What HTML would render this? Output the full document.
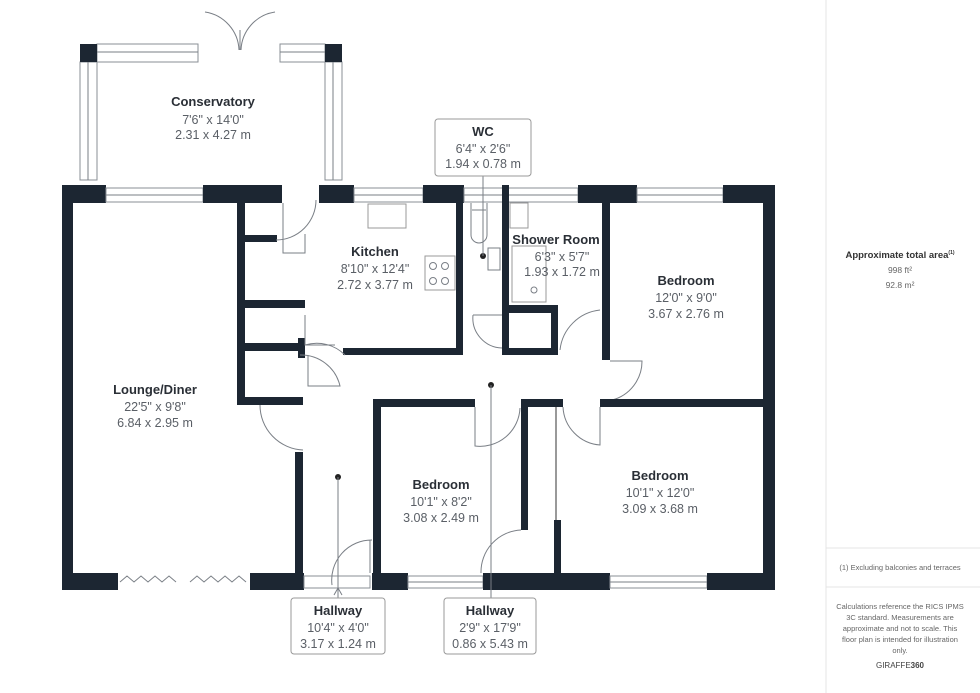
<!DOCTYPE html>
<html><head><meta charset="utf-8"><style>
html,body{margin:0;padding:0;background:#fff;}
svg{display:block;font-family:"Liberation Sans",sans-serif;}
.w{fill:#1c2632}
.t{font-weight:bold;font-size:13px;fill:#2a2f36;text-anchor:middle}
.d{font-size:12.5px;fill:#5a5f66;text-anchor:middle}
.win{fill:#fff;stroke:#8a8f96;stroke-width:1}
.l{fill:none;stroke:#7a7f86;stroke-width:1}
.s{font-size:8px;fill:#666;text-anchor:middle}
</style></head><body>
<svg width="980" height="693" viewBox="0 0 980 693">
<rect width="980" height="693" fill="#fff"/>
<!-- right panel -->
<line x1="826" y1="0" x2="826" y2="693" stroke="#e4e4e4"/>
<line x1="826" y1="548" x2="980" y2="548" stroke="#e4e4e4"/>
<line x1="826" y1="587" x2="980" y2="587" stroke="#e4e4e4"/>
<text x="900" y="258" style="font-weight:bold;font-size:9.5px;fill:#333;text-anchor:middle">Approximate total area<tspan font-size="5" dy="-4">(1)</tspan></text>
<text x="900" y="273" class="s" style="font-size:8.5px">998 ft²</text>
<text x="900" y="288" class="s" style="font-size:8.5px">92.8 m²</text>
<text x="900" y="570" class="s" style="font-size:7.5px">(1) Excluding balconies and terraces</text>
<text class="s" style="font-size:7.5px"><tspan x="900" y="609">Calculations reference the RICS IPMS</tspan><tspan x="900" y="620">3C standard. Measurements are</tspan><tspan x="900" y="631">approximate and not to scale. This</tspan><tspan x="900" y="642">floor plan is intended for illustration</tspan><tspan x="900" y="653">only.</tspan></text>
<text x="900" y="668" class="s" style="font-size:8px;fill:#444">GIRAFFE<tspan font-weight="bold">360</tspan></text>

<!-- conservatory -->
<rect class="win" x="80" y="62" width="17" height="118"/><line class="l" x1="88" y1="62" x2="88" y2="180"/>
<rect class="win" x="325" y="62" width="17" height="118"/><line class="l" x1="333" y1="62" x2="333" y2="180"/>
<rect class="win" x="97" y="44" width="101" height="18"/><line class="l" x1="97" y1="52" x2="198" y2="52"/>
<rect class="win" x="280" y="44" width="45" height="18"/><line class="l" x1="280" y1="52" x2="325" y2="52"/>
<path class="l" d="M239 50 A40 40 0 0 0 205 12 M241 50 A40 40 0 0 1 275 12 M240 50 L240 30"/>
<rect class="w" x="80" y="44" width="17" height="18"/>
<rect class="w" x="325" y="44" width="17" height="18"/>
<!-- top wall -->
<rect class="w" x="62" y="185" width="44" height="18"/>
<rect class="win" x="106" y="188" width="97" height="14"/><line class="l" x1="106" y1="195" x2="203" y2="195"/>
<rect class="w" x="203" y="185" width="79" height="18"/>
<rect class="w" x="319" y="185" width="35" height="18"/>
<rect class="win" x="354" y="188" width="69" height="14"/><line class="l" x1="354" y1="195" x2="423" y2="195"/>
<rect class="w" x="423" y="185" width="41" height="18"/>
<rect class="win" x="464" y="188" width="114" height="14"/><line class="l" x1="464" y1="195" x2="578" y2="195"/>
<rect class="w" x="578" y="185" width="59" height="18"/>
<rect class="win" x="637" y="188" width="86" height="14"/><line class="l" x1="637" y1="195" x2="723" y2="195"/>
<rect class="w" x="723" y="185" width="52" height="18"/>
<!-- outer walls -->
<rect class="w" x="62" y="185" width="11" height="405"/>
<rect class="w" x="763" y="185" width="12" height="405"/>
<!-- bottom wall -->
<rect class="w" x="62" y="573" width="56" height="17"/>
<path class="l" d="M120 582 l7 -6 l7 6 l7 -6 l7 6 l7 -6 l7 6 l7 -6 l7 6 M190 582 l7 -6 l7 6 l7 -6 l7 6 l7 -6 l7 6 l7 -6 l7 6" stroke-width="1.5"/>
<rect class="w" x="250" y="573" width="54" height="17"/>
<rect class="win" x="304" y="576" width="66" height="12"/>
<rect class="w" x="372" y="573" width="36" height="17"/>
<rect class="win" x="408" y="576" width="75" height="12"/><line class="l" x1="408" y1="582" x2="483" y2="582"/>
<rect class="w" x="483" y="573" width="127" height="17"/>
<rect class="win" x="610" y="576" width="97" height="12"/><line class="l" x1="610" y1="582" x2="707" y2="582"/>
<rect class="w" x="707" y="573" width="68" height="17"/>
<!-- kitchen -->
<rect class="w" x="237" y="203" width="8" height="202"/>
<rect class="w" x="244" y="235" width="33" height="7"/>
<rect class="w" x="244" y="300" width="61" height="8"/>
<rect class="w" x="244" y="343" width="61" height="8"/>
<rect class="w" x="298" y="338" width="7" height="20"/>
<rect class="w" x="343" y="348" width="120" height="7"/>
<rect class="w" x="456" y="203" width="7" height="152"/>
<path class="l" d="M283 203 V253 H305 V234 M316 200 A40 40 0 0 1 276 240"/>
<path class="l" d="M305 315 V345 H335 M305 345 A40 40 0 0 1 345 355 M308 355 V386 H340 A40 40 0 0 0 300 355"/>
<rect x="368" y="204" width="38" height="24" fill="none" stroke="#999"/>
<rect x="425" y="256" width="30" height="34" fill="none" stroke="#999"/>
<circle cx="433" cy="266" r="3.5" class="l"/><circle cx="445" cy="266" r="3.5" class="l"/><circle cx="433" cy="281" r="3.5" class="l"/><circle cx="445" cy="281" r="3.5" class="l"/>
<!-- lounge/hall partition -->
<rect class="w" x="237" y="397" width="66" height="8"/>
<rect class="w" x="295" y="452" width="8" height="138"/>
<path class="l" d="M260 405 A45 45 0 0 0 303 450"/>
<!-- WC / shower -->
<rect class="w" x="502" y="185" width="7" height="170"/>
<rect class="w" x="502" y="348" width="56" height="7"/>
<rect class="w" x="508" y="305" width="50" height="8"/>
<rect class="w" x="551" y="305" width="7" height="50"/>
<path class="l" d="M471 203 V235 A8 8 0 0 0 487 235 V203 M472 210 H486 M488 248 H500 V270 H488 Z M473 315 H502 M473 315 A30 30 0 0 0 502 348"/>
<rect x="512" y="246" width="34" height="56" fill="none" stroke="#999"/>
<rect x="510" y="203" width="18" height="25" fill="none" stroke="#999"/>
<circle cx="534" cy="290" r="3" class="l"/>
<circle cx="483" cy="256" r="3" fill="#222"/>
<!-- right bedroom top -->
<rect class="w" x="602" y="185" width="8" height="175"/>
<path class="l" d="M600 310 A45 45 0 0 0 560 350 M610 361 H642 A40 40 0 0 1 612 400"/>
<!-- hall/bedroom walls -->
<rect class="w" x="373" y="399" width="8" height="191"/>
<rect class="w" x="373" y="399" width="102" height="8"/>
<rect class="w" x="521" y="399" width="42" height="8"/>
<rect class="w" x="521" y="399" width="7" height="131"/>
<rect class="w" x="600" y="399" width="165" height="8"/>
<rect class="w" x="554" y="520" width="7" height="60"/>
<line x1="556" y1="407" x2="556" y2="520" stroke="#999" stroke-width="2"/>
<path class="l" d="M475 407 V446 A40 40 0 0 0 520 408 M521 530 A42 42 0 0 0 481 573 M563 407 A40 40 0 0 0 600 445 V407 M372 540 A40 40 0 0 0 332 585 M370 540 V573"/>
<!-- markers/leaders -->
<circle cx="338" cy="477" r="3" fill="#222"/><line class="l" x1="338" y1="477" x2="338" y2="598"/>
<path class="l" d="M334 595 L338 588 L342 595"/>
<circle cx="491" cy="385" r="3" fill="#222"/><line class="l" x1="491" y1="385" x2="491" y2="598"/>
<line class="l" x1="483" y1="157" x2="483" y2="256"/>
<!-- label boxes -->
<rect x="435" y="119" width="96" height="57" rx="3" fill="#fff" stroke="#999"/>
<rect x="291" y="598" width="94" height="56" rx="3" fill="#fff" stroke="#999"/>
<rect x="444" y="598" width="92" height="56" rx="3" fill="#fff" stroke="#999"/>
<!-- labels -->
<text class="t" x="213" y="106">Conservatory</text><text class="d" x="213" y="124">7'6" x 14'0"</text><text class="d" x="213" y="139">2.31 x 4.27 m</text>
<text class="t" x="483" y="136">WC</text><text class="d" x="483" y="153">6'4" x 2'6"</text><text class="d" x="483" y="168">1.94 x 0.78 m</text>
<text class="t" x="375" y="256">Kitchen</text><text class="d" x="375" y="273">8'10" x 12'4"</text><text class="d" x="375" y="289">2.72 x 3.77 m</text>
<text class="t" x="556" y="244">Shower Room</text><text class="d" x="562" y="261">6'3" x 5'7"</text><text class="d" x="562" y="276">1.93 x 1.72 m</text>
<text class="t" x="686" y="285">Bedroom</text><text class="d" x="686" y="302">12'0" x 9'0"</text><text class="d" x="686" y="318">3.67 x 2.76 m</text>
<text class="t" x="155" y="394">Lounge/Diner</text><text class="d" x="155" y="411">22'5" x 9'8"</text><text class="d" x="155" y="427">6.84 x 2.95 m</text>
<text class="t" x="660" y="480">Bedroom</text><text class="d" x="660" y="497">10'1" x 12'0"</text><text class="d" x="660" y="513">3.09 x 3.68 m</text>
<text class="t" x="441" y="489">Bedroom</text><text class="d" x="441" y="506">10'1" x 8'2"</text><text class="d" x="441" y="522">3.08 x 2.49 m</text>
<text class="t" x="338" y="615">Hallway</text><text class="d" x="338" y="632">10'4" x 4'0"</text><text class="d" x="338" y="648">3.17 x 1.24 m</text>
<text class="t" x="490" y="615">Hallway</text><text class="d" x="490" y="632">2'9" x 17'9"</text><text class="d" x="490" y="648">0.86 x 5.43 m</text>
</svg>
</body></html>
